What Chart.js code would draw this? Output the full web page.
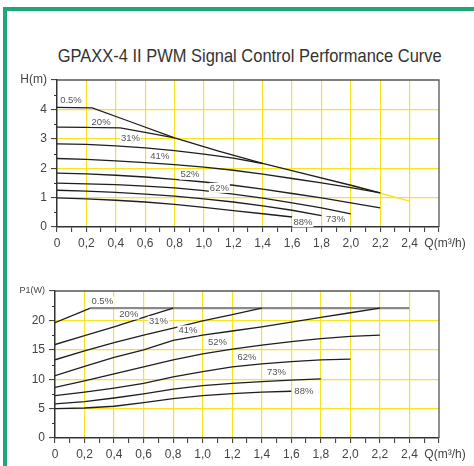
<!DOCTYPE html>
<html><head><meta charset="utf-8">
<script src="https://cdn.jsdelivr.net/npm/chart.js@4/dist/chart.umd.min.js"></script>
<style>
html,body{margin:0;padding:0;background:#fff;overflow:hidden;width:474px;height:466px;}
body{position:relative;font-family:"Liberation Sans",Arial,sans-serif;}
#frame{position:absolute;left:3px;top:7px;width:471px;height:459px;border-left:4px solid #1fa67a;border-top:4px solid #1fa67a;box-sizing:border-box;}
#title{position:absolute;left:26px;top:46px;width:448px;text-align:center;font-size:18.5px;line-height:20px;color:#333;white-space:nowrap;overflow:visible;}
#tt{display:inline-block;transform-origin:50% 50%;}
#w1{position:absolute;left:0;top:0;width:474px;height:262px;overflow:hidden;}
#w2{position:absolute;left:0;top:250px;width:474px;height:216px;overflow:hidden;}
canvas{display:block;}
</style></head>
<body>
<div id="frame"></div>
<div id="title"><span id="tt">GPAXX-4 II PWM Signal Control Performance Curve</span></div>
<div id="w1"><canvas id="c1" width="474" height="262"></canvas></div>
<div id="w2"><canvas id="c2" width="474" height="216"></canvas></div>
<script>
// ---------- data ----------
const pctLabels = ['0.5%','20%','31%','41%','52%','62%','73%','88%'];

// Head curves H(m) vs Q(m3/h)
const qMaxH = [0, 0.24, 0.5, 0.8, 1.1, 1.4, 1.66, 2.0, 2.2];
const hMax  = [4.07, 4.05, 3.58, 3.03, 2.58, 2.16, 1.84, 1.42, 1.16];
const qExtH = [2.0, 2.4];
const hExt  = [1.42, 0.88];
const q20H  = [0, 0.2, 0.43, 0.6, 0.8];
const h20   = [3.40, 3.39, 3.37, 3.22, 3.03];
const q31H  = [0, 0.2, 0.4, 0.6, 0.8, 1.0, 1.2, 1.4];
const h31   = [2.83, 2.81, 2.76, 2.69, 2.60, 2.48, 2.34, 2.16];
const q41H  = [0, 0.2, 0.4, 0.6, 0.8, 1.0, 1.2, 1.4, 1.6, 1.8, 2.0, 2.2];
const h41   = [2.33, 2.30, 2.25, 2.19, 2.12, 2.04, 1.93, 1.80, 1.65, 1.50, 1.34, 1.16];
const q52H  = [0, 0.2, 0.4, 0.6, 0.8, 1.0, 1.2, 1.4, 1.6, 1.8, 2.0, 2.2];
const h52   = [1.83, 1.81, 1.76, 1.70, 1.62, 1.53, 1.42, 1.29, 1.14, 0.99, 0.82, 0.65];
const q62H  = [0, 0.2, 0.4, 0.6, 0.8, 1.0, 1.2, 1.4, 1.6, 1.8, 2.0];
const h62   = [1.49, 1.47, 1.44, 1.39, 1.33, 1.24, 1.12, 0.98, 0.82, 0.65, 0.45];
const q73H  = [0, 0.2, 0.4, 0.6, 0.8, 1.0, 1.2, 1.4, 1.6, 1.8];
const h73   = [1.25, 1.22, 1.18, 1.12, 1.05, 0.96, 0.85, 0.72, 0.57, 0.39];
const q88H  = [0, 0.2, 0.4, 0.6, 0.8, 1.0, 1.2, 1.4, 1.6];
const h88   = [0.99, 0.96, 0.91, 0.85, 0.77, 0.67, 0.56, 0.45, 0.34];

// Power curves P1(W) vs Q(m3/h)
const q05P   = [0, 0.24];
const p05    = [19.6, 22.1];
const qFlatP = [0.24, 2.4];
const pFlat  = [22.1, 22.1];
const q20P   = [0, 0.2, 0.4, 0.6, 0.8];
const p20    = [15.9, 17.4, 18.9, 20.5, 22.1];
const q31P   = [0, 0.2, 0.4, 0.6, 0.8, 1.0, 1.2, 1.4];
const p31    = [13.3, 14.8, 16.2, 17.5, 18.7, 19.9, 21.0, 22.1];
const q41P   = [0, 0.2, 0.4, 0.6, 0.8, 1.0, 1.2, 1.4, 1.6, 1.8, 2.0, 2.2];
const p41    = [10.6, 12.2, 13.7, 15.0, 16.6, 17.5, 18.2, 18.9, 19.7, 20.5, 21.3, 22.1];
const q52P   = [0, 0.2, 0.4, 0.6, 0.8, 1.0, 1.2, 1.4, 1.6, 1.8, 2.0, 2.2];
const p52    = [8.6, 9.7, 10.9, 12.1, 13.3, 14.3, 15.1, 15.8, 16.4, 16.9, 17.3, 17.5];
const q62P   = [0, 0.2, 0.4, 0.6, 0.8, 1.0, 1.2, 1.4, 1.6, 1.8, 2.0];
const p62    = [7.2, 7.8, 8.5, 9.3, 10.4, 11.3, 12.1, 12.6, 13.0, 13.3, 13.4];
const q73P   = [0, 0.2, 0.4, 0.6, 0.8, 1.0, 1.2, 1.4, 1.6, 1.8];
const p73    = [5.8, 6.2, 6.8, 7.5, 8.3, 8.9, 9.3, 9.6, 9.85, 10.05];
const q88P   = [0, 0.2, 0.4, 0.6, 0.8, 1.0, 1.2, 1.4, 1.6];
const p88    = [5.0, 5.1, 5.4, 6.0, 6.7, 7.2, 7.55, 7.8, 7.95];

// label anchors (data units) for the % labels
const headLabelAt  = [[0.095,4.31],[0.30,3.57],[0.50,3.0],[0.70,2.39],[0.905,1.78],[1.105,1.33],[1.896,0.27],[1.674,0.17]];
const powerLabelAt = [[0.32,23.2],[0.50,21.0],[0.70,19.9],[0.90,18.3],[1.10,16.2],[1.30,13.7],[1.50,11.1],[1.685,8.0]];

// ---------- styling ----------
const YEL = '#f6e41c';
const INK = '#1e1e1e';
const CLEAR = 'rgba(0,0,0,0)';
const FONT = '"Liberation Sans", Arial, sans-serif';

(function(){
  const c = document.createElement('canvas').getContext('2d');
  c.font = '18.5px ' + FONT;
  const w = c.measureText(document.getElementById('tt').textContent).width;
  document.getElementById('tt').style.transform = 'scaleX(' + (384 / w) + ')';
})();

function pts(qs, vs){ return qs.map((q,i)=>({x:q, y:vs[i]})); }
function ds(qs, vs, color, width){
  return {data: pts(qs, vs), borderColor: color || INK, borderWidth: width || 1.3,
          pointRadius: 0, tension: 0, fill: false};
}
function fmtQ(v){
  const k = Math.round(v*10);
  if (k === 26) return '\u2003Q(m\u00b3/h)';
  if (k % 2) return '';
  return k === 0 ? '0' : (k/10).toFixed(1).replace('.', ',');
}
function deco(labelAt, minorStep){
  return {
    id: 'deco',
    afterDraw(chart){
      const {ctx, chartArea: a, scales: {x, y}} = chart;
      ctx.save();
      ctx.strokeStyle = '#555'; ctx.lineWidth = 1.3;
      ctx.beginPath(); ctx.moveTo(a.left, a.top); ctx.lineTo(a.right, a.top); ctx.lineTo(a.right, a.bottom); ctx.stroke();
      ctx.strokeStyle = '#333'; ctx.lineWidth = 1;
      for (let v = minorStep; v < y.max; v += 2*minorStep){
        const py = Math.round(y.getPixelForValue(v)) + 0.5;
        ctx.beginPath(); ctx.moveTo(a.left - 3, py); ctx.lineTo(a.left, py); ctx.stroke();
      }
      ctx.font = '9.5px ' + FONT; ctx.textAlign = 'center'; ctx.textBaseline = 'middle';
      labelAt.forEach(([q, v], i) => {
        const px = x.getPixelForValue(q), py = y.getPixelForValue(v);
        const w = ctx.measureText(pctLabels[i]).width;
        ctx.fillStyle = '#fff'; ctx.fillRect(px - w/2 - 1, py - 5, w + 2, 10);
        ctx.fillStyle = '#555'; ctx.fillText(pctLabels[i], px, py);
      });
      ctx.restore();
    }
  };
}
function xAxis(h){
  return {
    type: 'linear', min: 0, max: 2.6,
    ticks: {stepSize: 0.1, autoSkip: false, maxRotation: 0, minRotation: 0, padding: 4, color: '#444',
            font: {family: FONT, size: 12}, callback: fmtQ},
    grid: {color: c => { const k = Math.round(c.tick.value*10); return (k > 0 && k < 26 && k % 2 === 0) ? YEL : CLEAR; },
           lineWidth: 1.2, tickLength: 5, tickColor: '#333', tickWidth: 1},
    border: {color: '#333', width: 1.5},
    afterFit: s => { s.height = h; }
  };
}
function yAxis(max, step, w, title){
  return {
    type: 'linear', min: 0, max: max,
    ticks: {stepSize: step, padding: 4, color: '#444',
            font: c => ({family: FONT, size: (c.tick && c.tick.value === max && title === 'P1(W)') ? 9 : 12}),
            callback: v => v === max ? title : String(v)},
    grid: {color: c => (c.tick.value > 0 && c.tick.value < max) ? YEL : CLEAR,
           lineWidth: 1.2, tickLength: 6, tickColor: '#333', tickWidth: 1},
    border: {color: '#333', width: 1.5},
    afterFit: s => { s.width = w; }
  };
}
function opts(top, xh, ymax, ystep, yw, ytitle){
  return {
    responsive: false, animation: false,
    plugins: {legend: {display: false}, tooltip: {enabled: false}},
    layout: {padding: {left: 0, top: top, right: 35, bottom: 0}},
    scales: {x: xAxis(xh), y: yAxis(ymax, ystep, yw, ytitle)}
  };
}
new Chart(document.getElementById('c1'), {
  type: 'line',
  data: {datasets: [
    ds(qMaxH, hMax), ds(q20H, h20), ds(q31H, h31), ds(q41H, h41),
    ds(q52H, h52), ds(q62H, h62), ds(q73H, h73), ds(q88H, h88),
    ds(qExtH, hExt, YEL, 1.5)
  ]},
  options: opts(80, 35, 5, 1, 57, 'H(m)'),
  plugins: [deco(headLabelAt, 0.5)]
});
new Chart(document.getElementById('c2'), {
  type: 'line',
  data: {datasets: [
    ds(q05P, p05), ds(q20P, p20), ds(q31P, p31), ds(q41P, p41),
    ds(q52P, p52), ds(q62P, p62), ds(q73P, p73), ds(q88P, p88),
    ds(qFlatP, pFlat, '#8a8a8a', 2.2)
  ]},
  options: opts(41, 28, 25, 5, 55, 'P1(W)'),
  plugins: [deco(powerLabelAt, 2.5)]
});
</script>
</body></html>
